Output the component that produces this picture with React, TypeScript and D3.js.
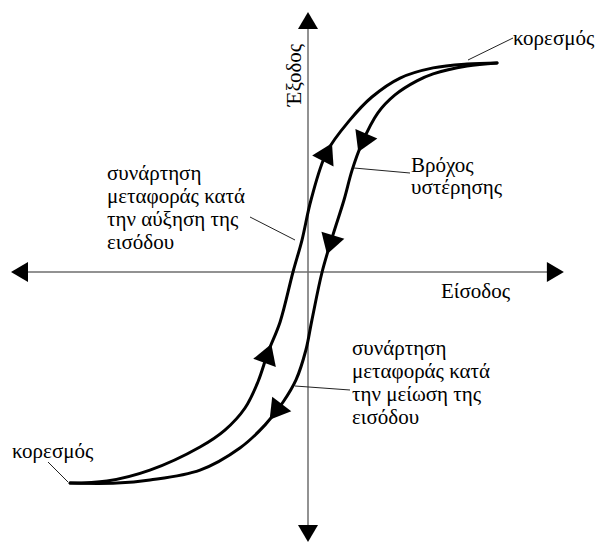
import React, { useEffect, useRef } from "react";
import * as d3 from "d3";

const W = 603;
const H = 543;

// Data units: x = input, y = output (origin at 0)
const risingX = [-0.793, -0.67, -0.527, -0.36, -0.277, -0.21, -0.167, -0.133, -0.093, -0.05, -0.02, 0.01, 0.063, 0.14, 0.213, 0.307, 0.417, 0.53, 0.63];
const risingY = [-0.812, -0.804, -0.762, -0.673, -0.608, -0.523, -0.423, -0.308, -0.192, 0, 0.123, 0.277, 0.462, 0.585, 0.673, 0.746, 0.785, 0.8, 0.804];
const fallingX = [0.63, 0.53, 0.417, 0.363, 0.29, 0.233, 0.18, 0.147, 0.12, 0.083, 0.047, 0.013, -0.007, -0.04, -0.083, -0.143, -0.227, -0.36, -0.527, -0.637, -0.793];
const fallingY = [0.804, 0.792, 0.762, 0.735, 0.681, 0.612, 0.496, 0.392, 0.277, 0.142, 0, -0.185, -0.3, -0.415, -0.5, -0.588, -0.677, -0.762, -0.8, -0.812, -0.812];

// arrow positions (output values) along each branch
const risingArrowsY = [0.462, -0.312];
const fallingArrowsY = [0.496, 0.104, -0.538];

// axis extents
const xAxisExtent = [-0.99, 0.853];
const yAxisExtent = [-1.038, 1.0];

const FONT = "'Liberation Serif', 'Times New Roman', serif";

export default function App() {
  const ref = useRef<SVGSVGElement | null>(null);

  useEffect(() => {
    const svg = d3.select(ref.current);
    svg.selectAll("*").remove();

    const x = d3.scaleLinear().domain([-1, 1]).range([8, 608]);
    const y = d3.scaleLinear().domain([-1, 1]).range([532, 12]);

    const g = svg.append("g");

    const arrowHead = (tx: number, ty: number, ang: number, len: number, half: number) => {
      const cx = Math.cos(ang), sy = Math.sin(ang);
      const bx = tx - cx * len, by = ty - sy * len;
      const px = -sy, py = cx;
      return `M${tx},${ty}L${bx + px * half},${by + py * half}L${bx - px * half},${by - py * half}Z`;
    };

    // axes
    const axisColor = "#6e6e6e";
    g.append("line")
      .attr("x1", x(xAxisExtent[0]) + 10).attr("x2", x(xAxisExtent[1]) - 10)
      .attr("y1", y(0)).attr("y2", y(0))
      .attr("stroke", axisColor).attr("stroke-width", 1.5);
    g.append("line")
      .attr("x1", x(0)).attr("x2", x(0))
      .attr("y1", y(yAxisExtent[1]) + 10).attr("y2", y(yAxisExtent[0]) - 10)
      .attr("stroke", axisColor).attr("stroke-width", 1.5);
    const heads = [
      [x(xAxisExtent[0]), y(0), Math.PI],
      [x(xAxisExtent[1]), y(0), 0],
      [x(0), y(yAxisExtent[1]), -Math.PI / 2],
      [x(0), y(yAxisExtent[0]), Math.PI / 2],
    ];
    heads.forEach(([hx, hy, a]) => {
      g.append("path").attr("d", arrowHead(hx, hy, a, 17, 10)).attr("fill", "#000");
    });

    const line = d3.line<[number, number]>()
      .x((d) => x(d[0]))
      .y((d) => y(d[1]))
      .curve(d3.curveCatmullRom.alpha(0.5));

    const rising: [number, number][] = risingX.map((v, i) => [v, risingY[i]]);
    const falling: [number, number][] = fallingX.map((v, i) => [v, fallingY[i]]);

    const drawBranch = (pts: [number, number][], arrowsY: number[]) => {
      const path = g.append("path")
        .attr("d", line(pts) as string)
        .attr("fill", "none")
        .attr("stroke", "#000")
        .attr("stroke-width", 3)
        .attr("stroke-linecap", "round");
      const node = path.node() as SVGPathElement;
      const total = node.getTotalLength();
      arrowsY.forEach((av) => {
        const targetPy = y(av);
        let best = 0, bestD = Infinity;
        for (let l = 0; l <= total; l += 0.5) {
          const p = node.getPointAtLength(l);
          const d = Math.abs(p.y - targetPy);
          if (d < bestD) { bestD = d; best = l; }
        }
        const p1 = node.getPointAtLength(Math.max(0, best - 3));
        const p2 = node.getPointAtLength(Math.min(total, best + 3));
        const ang = Math.atan2(p2.y - p1.y, p2.x - p1.x);
        const tip = node.getPointAtLength(Math.min(total, best + 10));
        g.append("path").attr("d", arrowHead(tip.x, tip.y, ang, 20, 12)).attr("fill", "#000");
      });
    };

    drawBranch(rising, risingArrowsY);
    drawBranch(falling, fallingArrowsY);

    // leader lines
    const leaders = [
      [[468, 60], [513, 38]],
      [[48, 462], [68, 482]],
      [[250, 217], [295, 240]],
      [[354, 168], [410, 173]],
      [[295, 386], [350, 390]],
    ];
    leaders.forEach(([a, b]) => {
      g.append("line")
        .attr("x1", a[0]).attr("y1", a[1]).attr("x2", b[0]).attr("y2", b[1])
        .attr("stroke", "#222").attr("stroke-width", 1);
    });

    const text = (tx: number, ty: number, lines: string[], step = 23) => {
      const t = g.append("text")
        .attr("x", tx).attr("y", ty)
        .attr("font-family", FONT)
        .attr("font-size", 21)
        .attr("fill", "#000");
      lines.forEach((s, i) => {
        t.append("tspan").attr("x", tx).attr("y", ty + i * step).text(s);
      });
    };

    text(513, 45, ["κορεσμός"]);
    text(12, 458, ["κορεσμός"]);
    text(107, 180, ["συνάρτηση", "μεταφοράς κατά", "την αύξηση της", "εισόδου"]);
    text(411, 172, ["Βρόχος", "υστέρησης"], 22);
    text(352, 355, ["συνάρτηση", "μεταφοράς κατά", "την μείωση της", "εισόδου"]);
    text(441, 298, ["Είσοδος"]);

    g.append("text")
      .attr("transform", `translate(301,${75}) rotate(-90)`)
      .attr("text-anchor", "middle")
      .attr("font-family", FONT)
      .attr("font-size", 21)
      .attr("fill", "#000")
      .text("Έξοδος");
  }, []);

  return (
    <svg
      ref={ref}
      width={W}
      height={H}
      style={{ position: "absolute", left: 0, top: 0, background: "#fff" }}
    />
  );
}
